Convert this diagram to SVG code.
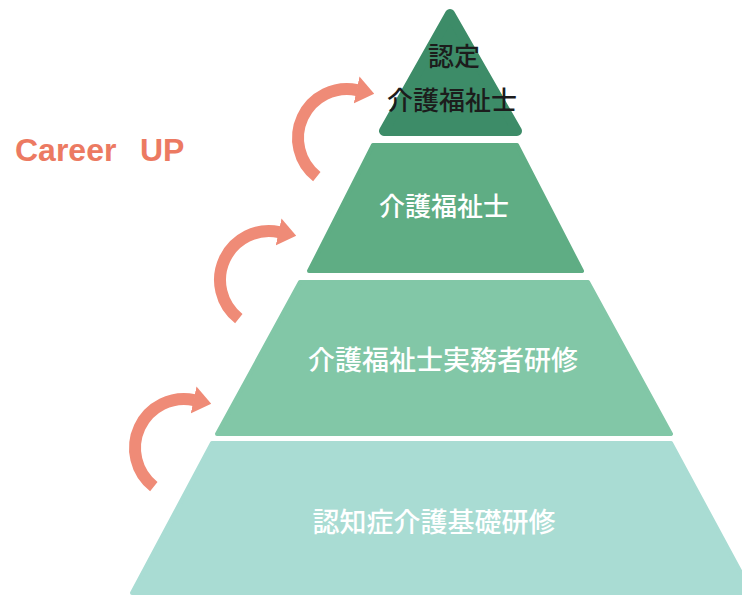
<svg xmlns="http://www.w3.org/2000/svg" width="742" height="597" viewBox="0 0 742 597">
  <defs>
    <style>
      .jp { font-family: "Noto Sans CJK JP", "Noto Sans", sans-serif; font-weight: 500; text-anchor: middle; dominant-baseline: central; }
      .w { fill: #ffffff; }
      .k { fill: #1c1c1c; }
      .arc { fill: none; stroke: #ef8b77; stroke-width: 12; stroke-linecap: butt; marker-end: url(#head); }
      .tier { stroke-linejoin: round; }
    </style>
    <marker id="head" viewBox="0 0 15 23" refX="0.5" refY="11.5" markerWidth="1.5" markerHeight="2.3" markerUnits="strokeWidth" orient="auto">
      <path d="M0,0 L15,11.5 L0,23 z" fill="#ef8b77"/>
    </marker>
  </defs>
  <rect width="742" height="597" fill="#ffffff"/>

  <g id="tier4">
    <polygon class="tier" points="212,443 671,443 752,593 132,593" fill="#a9dcd3" stroke="#a9dcd3" stroke-width="4"/>
    <text class="jp w" x="434" y="520" font-size="27">認知症介護基礎研修</text>
  </g>
  <g id="tier3">
    <polygon class="tier" points="300,282 588,282 671,434 217,434" fill="#82c7a7" stroke="#82c7a7" stroke-width="4"/>
    <text class="jp w" x="443" y="358" font-size="27">介護福祉士実務者研修</text>
  </g>
  <g id="tier2">
    <polygon class="tier" points="373,145 517,145 582,271 309,271" fill="#5fad84" stroke="#5fad84" stroke-width="4"/>
    <text class="jp w" x="444" y="204" font-size="26">介護福祉士</text>
  </g>
  <g id="tier1">
    <polygon class="tier" points="450,14 384,131 517,131" fill="#3d8c68" stroke="#3d8c68" stroke-width="10"/>
    <text class="jp k" x="454" y="54" font-size="26">認定</text>
    <text class="jp k" x="452" y="98" font-size="26">介護福祉士</text>
  </g>

  <g id="label">
    <text x="15" y="161" font-family="Liberation Sans, Arial, sans-serif" font-size="32" font-weight="bold" fill="#ec7a62">Career<tspan x="140">UP</tspan></text>
  </g>

  <g id="connectors">
    <path class="arc" d="M 316.8 176.6 A 49 49 0 0 1 357.2 90.1"/>
    <path class="arc" d="M 238.8 318.6 A 49 49 0 0 1 279.2 232.1"/>
    <path class="arc" d="M 153.8 486.6 A 49 49 0 0 1 194.2 400.1"/>
  </g>
</svg>
